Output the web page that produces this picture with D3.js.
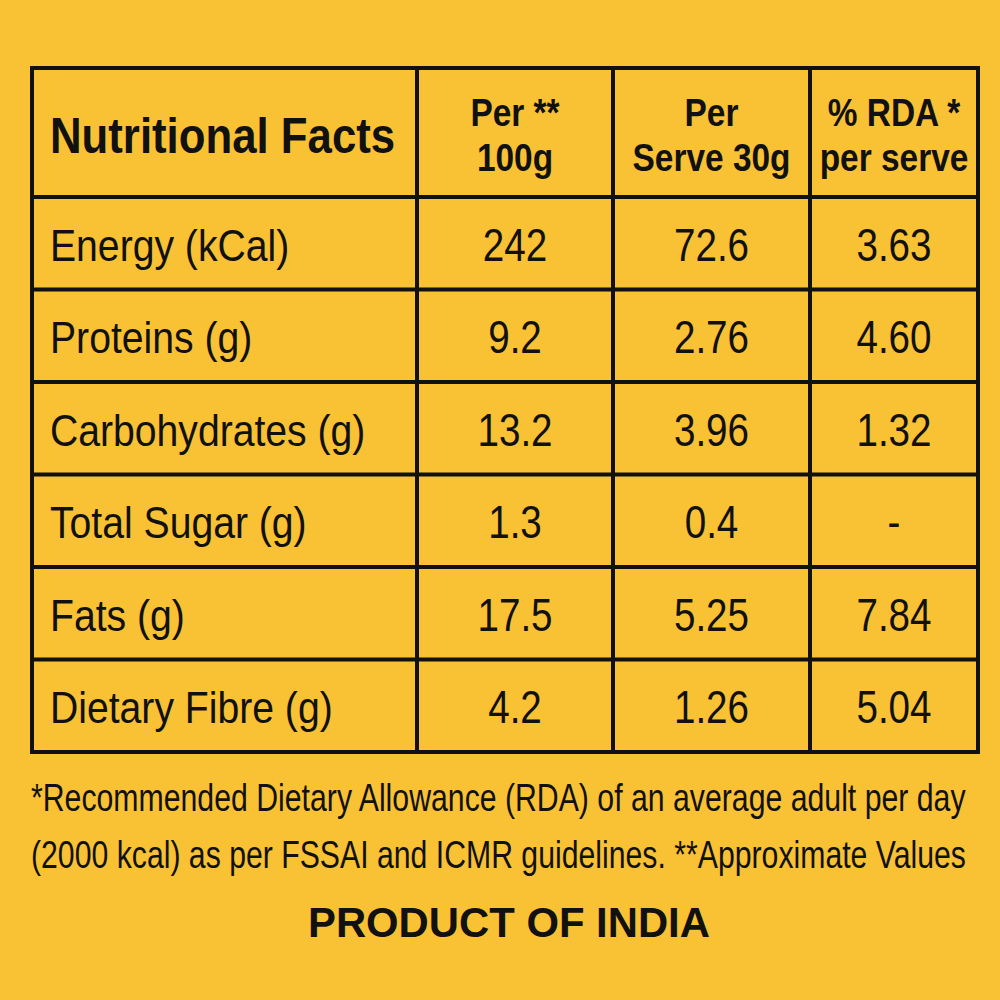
<!DOCTYPE html>
<html>
<head>
<meta charset="utf-8">
<script src="https://cdn.jsdelivr.net/npm/d3@7"></script>
<style>
  html, body { margin: 0; padding: 0; background: #F9C134; }
</style>
</head>
<body>
<div class="canvas"></div>
<script>
// table contents
var nutrients = ["Energy (kCal)", "Proteins (g)", "Carbohydrates (g)", "Total Sugar (g)", "Fats (g)", "Dietary Fibre (g)"]
var per100g = ["242", "9.2", "13.2", "1.3", "17.5", "4.2"]
var perServe = ["72.6", "2.76", "3.96", "0.4", "5.25", "1.26"]
var rdaPerServe = ["3.63", "4.60", "1.32", "-", "7.84", "5.04"]
var titleText = "Nutritional Facts"
var columnHeads = [["Per **", "100g"], ["Per", "Serve 30g"], ["% RDA *", "per serve"]]
var footnotes = ["*Recommended Dietary Allowance (RDA) of an average adult per day",
                 "(2000 kcal) as per FSSAI and ICMR guidelines. **Approximate Values"]
var origin = "PRODUCT OF INDIA"

var bg = "#F9C134"
var ink = "#111"
var font = "'Liberation Sans', Arial, Helvetica, sans-serif"

var svg = d3.select(".canvas").append("svg").attr("width", 1000).attr("height", 1000)

svg.append("rect").attr("width", 1000).attr("height", 1000).attr("fill", bg)

// column edges and row layout
var colEdges = [32, 417, 613, 810, 978]
var headTop = 68, headBottom = 197, tableBottom = 752

var y = d3.scaleBand().domain(nutrients).range([headBottom, tableBottom]).padding(0)

var colCenter = function(i) { return (colEdges[i] + colEdges[i + 1]) / 2 }

// text helper: condensed look via horizontal scaling
function addText(x, yBase, str, size, weight, anchor, sx) {
    return svg.append("text")
        .attr("transform", "translate(" + x + "," + yBase + ") scale(" + sx + ",1)")
        .attr("font-family", font)
        .attr("font-size", size)
        .attr("font-weight", weight)
        .attr("text-anchor", anchor)
        .attr("fill", ink)
        .text(str)
}

// squeeze a text so it spans exactly `width` px
function fitText(x, yBase, str, size, weight, width) {
    var t = addText(x, yBase, str, size, weight, "start", 1)
    var natural = t.node().getComputedTextLength()
    t.attr("transform", "translate(" + x + "," + yBase + ") scale(" + (width / natural) + ",1)")
    return t
}

// header row
var headMid = (headTop + headBottom) / 2
addText(50, headMid + 0.358 * 50 + 3, titleText, 50, "bold", "start", 0.875)

columnHeads.forEach(function(lines, i) {
    var cx = colCenter(i + 1)
    addText(cx, headMid + 0.358 * 38 + 2.5 - 22.5, lines[0], 38, "bold", "middle", 0.88)
    addText(cx, headMid + 0.358 * 38 + 2.5 + 22.5, lines[1], 38, "bold", "middle", 0.88)
})

// body rows
var valueCols = [per100g, perServe, rdaPerServe]
nutrients.forEach(function(name, r) {
    var cy = y(name) + y.bandwidth() / 2
    addText(50, cy + 0.358 * 45 + 1.5, name, 45, "normal", "start", 0.87)
    valueCols.forEach(function(col, c) {
        addText(colCenter(c + 1), cy + 0.358 * 46 + 1, col[r], 46, "normal", "middle", 0.84)
    })
})

// grid lines
var rowLines = [headBottom].concat(nutrients.slice(1).map(function(d) { return y(d) }))
svg.selectAll(".hline").data(rowLines).enter().append("line")
    .attr("x1", colEdges[0]).attr("x2", colEdges[colEdges.length - 1])
    .attr("y1", function(d) { return d }).attr("y2", function(d) { return d })
    .attr("stroke", ink).attr("stroke-width", 4)

svg.selectAll(".vline").data(colEdges.slice(1, -1)).enter().append("line")
    .attr("x1", function(d) { return d }).attr("x2", function(d) { return d })
    .attr("y1", headTop).attr("y2", tableBottom)
    .attr("stroke", ink).attr("stroke-width", 4)

// outer border
svg.append("rect")
    .attr("x", colEdges[0]).attr("y", headTop)
    .attr("width", colEdges[colEdges.length - 1] - colEdges[0])
    .attr("height", tableBottom - headTop)
    .attr("fill", "none").attr("stroke", ink).attr("stroke-width", 4)

// footnotes, justified to the table width
footnotes.forEach(function(line, i) {
    fitText(31, 811 + i * 57, line, 38, "normal", 935)
})

fitText(308, 937, origin, 42, "bold", 402)
</script>
</body>
</html>
